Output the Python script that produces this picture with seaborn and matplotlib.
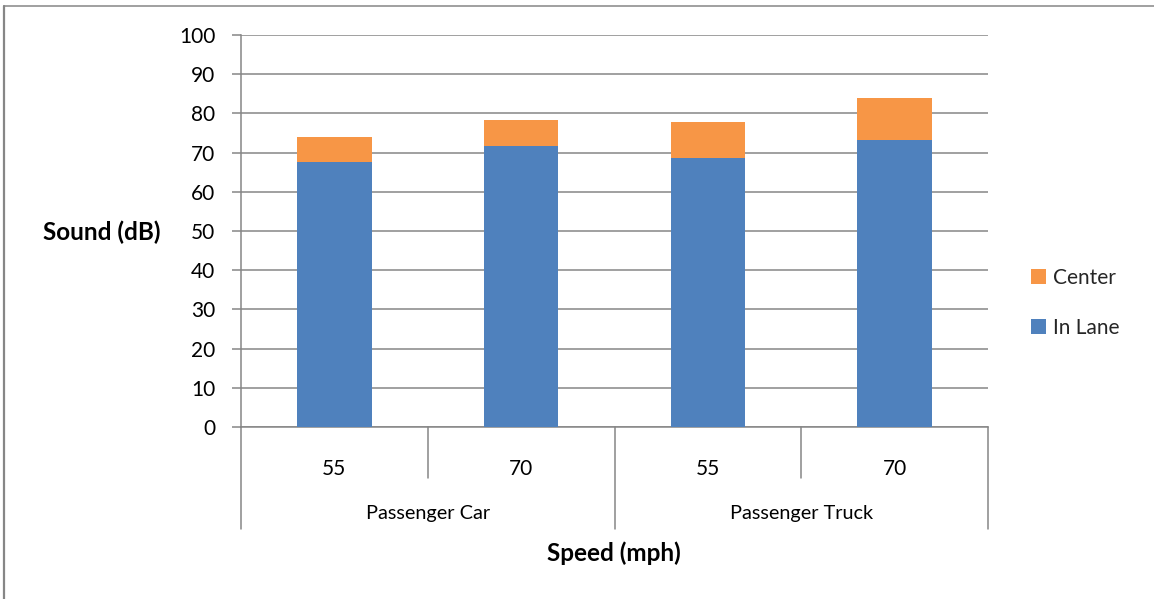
import matplotlib
matplotlib.use("Agg")
import matplotlib.pyplot as plt
from matplotlib.patches import Patch
from matplotlib.lines import Line2D
import seaborn as sns
import pandas as pd

# Noise levels by vehicle type and speed
vehicles = ["Passenger Car", "Passenger Car", "Passenger Truck", "Passenger Truck"]
speeds = ["55", "70", "55", "70"]
in_lane = [67.7, 71.8, 68.7, 73.3]
center = [6.3, 6.5, 9.0, 10.7]
y_ticks = [0, 10, 20, 30, 40, 50, 60, 70, 80, 90, 100]

BLUE = "#4F81BD"
ORANGE = "#F79646"
GRID = "#868686"
FS = 15
FS_GROUP = 14.3
FS_BOLD = 17.5

sns.set_theme(style="white")
plt.rcParams["font.family"] = ["Lato", "DejaVu Sans"]

df = pd.DataFrame({
    "slot": [f"{v} {s}" for v, s in zip(vehicles, speeds)],
    "In Lane": in_lane,
    "Center": center,
})
df["Total"] = df["In Lane"] + df["Center"]

W, H = 1154, 599
fig = plt.figure(figsize=(W / 100, H / 100), dpi=100)
ax = fig.add_axes([241 / W, 1 - 427 / H, (988 - 241) / W, (427 - 35) / H])

# stacked bars: total drawn first, in-lane segment on top of it
sns.barplot(data=df, x="slot", y="Total", color=ORANGE, width=0.4,
            saturation=1, ax=ax, zorder=3)
sns.barplot(data=df, x="slot", y="In Lane", color=BLUE, width=0.4,
            saturation=1, ax=ax, zorder=4)
for p in ax.patches:
    p.set_edgecolor("none")

ax.set_xlim(-0.5, 3.5)
ax.set_ylim(0, 100)
ax.set_yticks(y_ticks)
ax.yaxis.grid(True, color=GRID, linewidth=1.1, zorder=0)
ax.set_axisbelow(True)
ax.set_xlabel("")
ax.set_ylabel("")

for side in ["top", "right"]:
    ax.spines[side].set_visible(False)
for side in ["left", "bottom"]:
    ax.spines[side].set_color(GRID)
    ax.spines[side].set_linewidth(1.1)

ax.tick_params(axis="y", left=True, length=6.5, width=1.1, color=GRID,
               labelsize=FS, labelcolor="black", pad=12)
ax.set_xticks(range(len(speeds)))
ax.set_xticklabels(speeds)
ax.tick_params(axis="x", bottom=False, labelsize=FS, labelcolor="black", pad=17)

# two-level category axis: dividers and group labels
trans = ax.get_xaxis_transform()
small_drop = -51 / 392
big_drop = -102 / 392
for x in [0.5, 2.5]:
    ax.add_line(Line2D([x, x], [0, small_drop], transform=trans, color=GRID,
                       linewidth=1.1, clip_on=False))
for x in [-0.5, 1.5, 3.5]:
    ax.add_line(Line2D([x, x], [0, big_drop], transform=trans, color=GRID,
                       linewidth=1.1, clip_on=False))
groups = ["Passenger Car", "Passenger Truck"]
for i, g in enumerate(groups):
    ax.text(2 * i + 0.5, -86 / 392, g, transform=trans, ha="center", va="center",
            fontsize=FS_GROUP, color="black")

fig.text(102 / W, 1 - 232 / H, "Sound (dB)", ha="center", va="center",
         fontsize=FS_BOLD, fontweight="bold", color="black")
fig.text(614 / W, 1 - 553 / H, "Speed (mph)", ha="center", va="center",
         fontsize=FS_BOLD, fontweight="bold", color="black")

handles = [Patch(facecolor=ORANGE, edgecolor="none", label="Center"),
           Patch(facecolor=BLUE, edgecolor="none", label="In Lane")]
fig.legend(handles=handles, loc="center left",
           bbox_to_anchor=(1023 / W, 1 - 303 / H), frameon=False,
           fontsize=FS, handlelength=0.72, handleheight=0.72,
           handletextpad=0.3, labelspacing=1.45, borderaxespad=0)

# chart-area border along the top and left edges
fig.add_artist(Line2D([4 / W, 1], [1 - 5.5 / H, 1 - 5.5 / H], transform=fig.transFigure,
                      color=GRID, linewidth=1.1))
fig.add_artist(Line2D([4 / W, 4 / W], [0, 1 - 5.5 / H], transform=fig.transFigure,
                      color=GRID, linewidth=1.6))

fig.savefig("out.png", dpi=100)
